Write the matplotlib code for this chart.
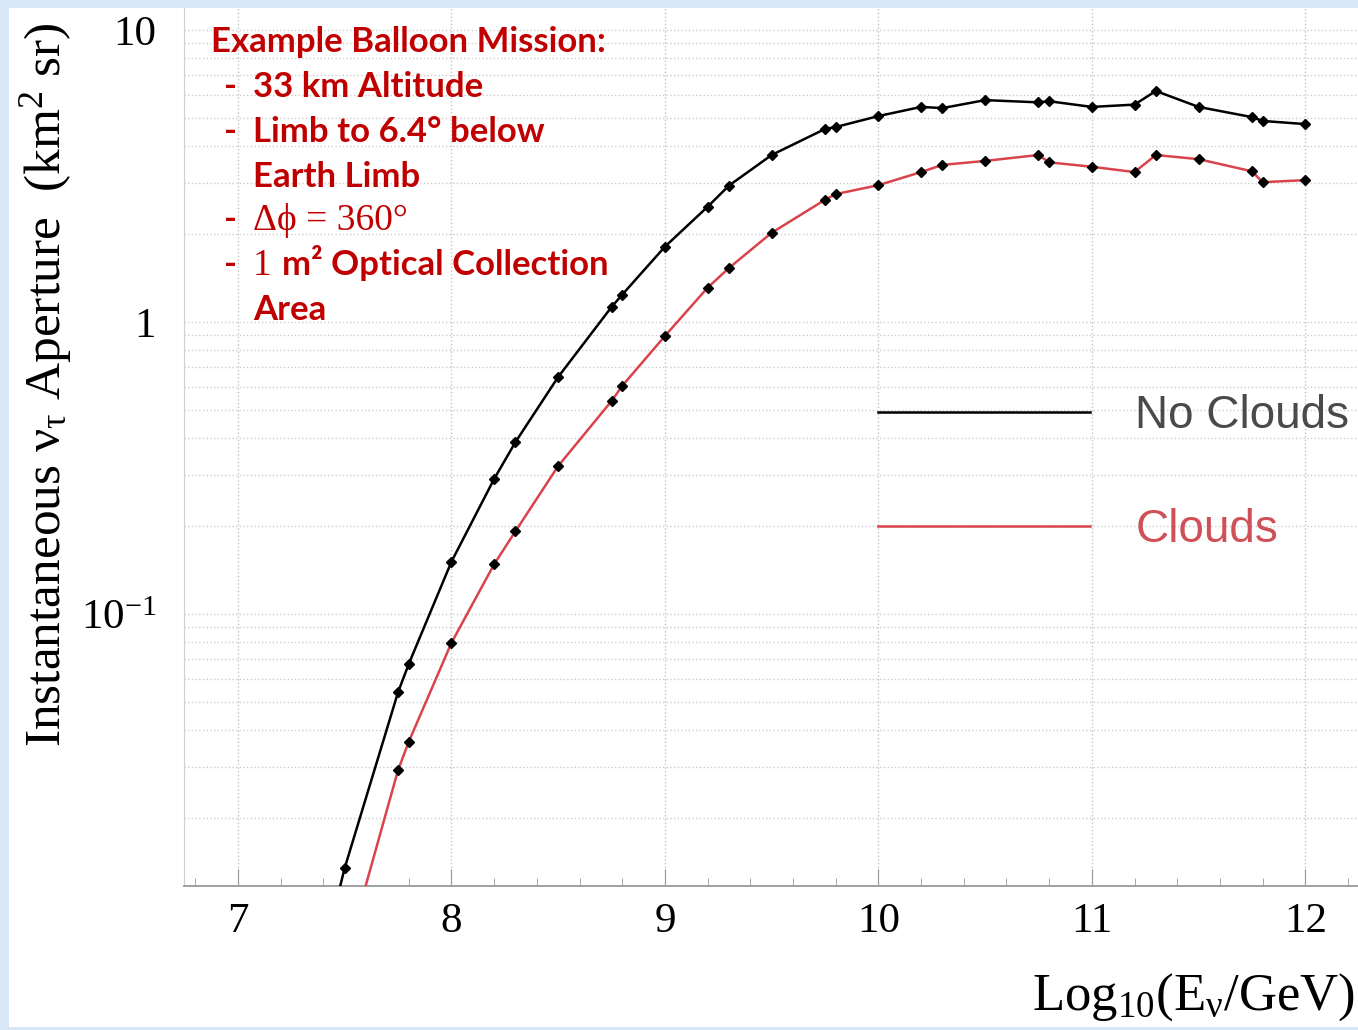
import matplotlib

matplotlib.use("Agg")
import matplotlib.pyplot as plt
from matplotlib.patches import Rectangle
import numpy as np

# log10(E_nu / GeV)
energy = [7.25, 7.5, 7.75, 7.8, 8.0, 8.2, 8.3, 8.5, 8.75, 8.8, 9.0, 9.2, 9.3, 9.5,
          9.75, 9.8, 10.0, 10.2, 10.3, 10.5, 10.75, 10.8, 11.0, 11.2, 11.3, 11.5,
          11.75, 11.8, 12.0]
# instantaneous aperture, km^2 sr
no_clouds = [0.0025, 0.0135, 0.054, 0.0674, 0.151, 0.29, 0.388, 0.648, 1.125, 1.24,
             1.81, 2.48, 2.93, 3.73, 4.58, 4.65, 5.07, 5.45, 5.4, 5.75, 5.65, 5.7,
             5.45, 5.55, 6.18, 5.45, 5.03, 4.88, 4.76]
clouds = [0.0008, 0.0065, 0.0292, 0.0365, 0.0796, 0.148, 0.192, 0.321, 0.536, 0.604,
          0.895, 1.31, 1.53, 2.02, 2.62, 2.74, 2.94, 3.26, 3.45, 3.56, 3.73, 3.52,
          3.40, 3.26, 3.73, 3.61, 3.28, 3.01, 3.06]
# first points of each curve carry no marker in the original
n_unmarked = [1, 2]

x_ticks = [7, 8, 9, 10, 11, 12]
y_ticks = [0.1, 1, 10]
y_tick_labels = ["10$^{\\mathregular{-1}}$", "1", "10"]

W, H = 1358, 1030
plt.rcParams["mathtext.fontset"] = "custom"
plt.rcParams["mathtext.rm"] = "Liberation Serif"
plt.rcParams["mathtext.it"] = "Liberation Serif:italic"
plt.rcParams["mathtext.default"] = "rm"

fig = plt.figure(figsize=(W / 100, H / 100), dpi=100)
fig.patch.set_facecolor("#d8e6f5")
fig.patches.append(Rectangle((9 / W, 1 - 1027 / H), 1 - 9 / W, (1027 - 8) / H,
                             transform=fig.transFigure, facecolor="white",
                             edgecolor="none", zorder=-10))

ax = fig.add_axes([184 / W, 1 - 886 / H, 1 - 184 / W, (886 - 8) / H])
ax.set_facecolor("white")

RED = "#d9434b"
ax.plot(energy, no_clouds, color="black", lw=1.8, label="No Clouds", zorder=3)
ax.plot(energy, clouds, color=RED, lw=1.8, label="Clouds", zorder=3)
ax.plot(energy[n_unmarked[0]:], no_clouds[n_unmarked[0]:], ls="none", marker="D",
        ms=5.5, color="black", zorder=4)
ax.plot(energy[n_unmarked[1]:], clouds[n_unmarked[1]:], ls="none", marker="D",
        ms=5.5, color="black", zorder=4)

ax.set_yscale("log")
ax.set_xlim(6.747, 12.247)
ax.set_ylim(0.0117, 11.89)

ax.set_xticks(x_ticks)
ax.set_xticks(np.arange(6.8, 12.25, 0.2), minor=True)
ax.set_yticks(y_ticks)
ax.set_yticklabels(y_tick_labels)
ax.tick_params(axis="both", which="both", direction="in", colors="#999999",
               labelcolor="black", labelsize=31)
ax.tick_params(axis="x", which="major", length=12, pad=12)
ax.tick_params(axis="x", which="minor", length=6)
ax.tick_params(axis="y", which="major", length=0, pad=20)
ax.tick_params(axis="y", which="minor", length=0, labelleft=False)
for lab in ax.get_xticklabels() + ax.get_yticklabels():
    lab.set_fontfamily("Liberation Serif")

ax.grid(True, axis="x", which="major", color="#c4c4c4", ls=":", lw=1.0)
ax.grid(True, axis="y", which="both", color="#cccccc", ls=":", lw=1.0)
ax.set_axisbelow(True)
for side in ["top", "right"]:
    ax.spines[side].set_visible(False)
ax.spines["left"].set_color("#cfcfcf")
ax.spines["bottom"].set_color("#999999")
ax.spines["bottom"].set_linewidth(1.3)

fig.text(46 / W, 1 - 385 / H, "Instantaneous ν$_{τ}$ Aperture  (km$^{2}$ sr)",
         rotation=90, ha="center", va="center", fontsize=37,
         family="Liberation Serif")
fig.text(1355 / W, 1 - 1010 / H, "Log$_{10}$(E$_{ν}$/GeV)", ha="right",
         va="baseline", fontsize=38, family="Liberation Serif")

leg = ax.legend(loc="upper left", bbox_to_anchor=(878 / W, 1 - 394 / H),
                bbox_transform=fig.transFigure, frameon=False,
                handlelength=4.63, handletextpad=0.98, labelspacing=1.53,
                borderpad=0, borderaxespad=0,
                prop={"family": "Liberation Sans", "size": 33})
leg.get_texts()[0].set_color("#4a4a4a")
leg.get_texts()[1].set_color("#d05058")

# annotation block
DARK_RED = "#c00000"
sans_bold = dict(family=["Lato", "DejaVu Sans"], weight="bold", fontsize=25,
                 color=DARK_RED, va="baseline")
serif = dict(family=["Liberation Serif", "DejaVu Serif"], fontsize=27,
             color=DARK_RED, va="baseline")


def px(x, y):
    return x / W, 1 - y / H


fig.text(*px(211, 52), "Example Balloon Mission:", **sans_bold)
dash_rows = [97, 142, 230, 275]
for y in dash_rows:
    fig.text(*px(224, y), "-", **sans_bold)
fig.text(*px(253, 97), "33 km Altitude", **sans_bold)
fig.text(*px(253, 142), "Limb to 6.4° below", **sans_bold)
fig.text(*px(253, 187), "Earth Limb", **sans_bold)
fig.text(*px(253, 230), "Δϕ = 360°", **serif)
fig.text(*px(253, 275), "1", **serif)
fig.text(*px(282, 275), "m² Optical Collection", **sans_bold)
fig.text(*px(253, 320), "Area", **sans_bold)

fig.savefig("out.png", dpi=100, facecolor=fig.get_facecolor())
